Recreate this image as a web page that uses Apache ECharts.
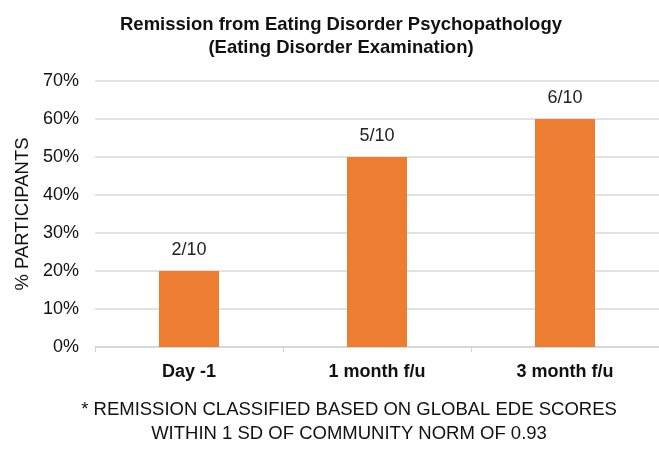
<!DOCTYPE html>
<html>
<head>
<meta charset="utf-8">
<script src="https://cdn.jsdelivr.net/npm/echarts@6/dist/echarts.min.js"></script>
<style>
  html, body { margin: 0; padding: 0; background: #fff; }
  #chart { width: 659px; height: 457px; }
</style>
</head>
<body>
<div id="chart"></div>
<script>
var categories = ["Day -1", "1 month f/u", "3 month f/u"];
var percentValues = [20, 50, 60];
var countLabels = ["2/10", "5/10", "6/10"];
var yTicks = [0, 10, 20, 30, 40, 50, 60, 70];

var chart = echarts.init(document.getElementById("chart"));
var font = "Liberation Sans, Arial, sans-serif";

var option = {
  backgroundColor: "#fff",
  animation: false,
  title: [
    {
      text: "Remission from Eating Disorder Psychopathology\n(Eating Disorder Examination)",
      left: 336,
      top: 8,
      textAlign: "center",
      textStyle: {
        fontFamily: font,
        fontSize: 18.5,
        fontWeight: "bold",
        color: "#111",
        lineHeight: 23
      }
    },
    {
      text: "* REMISSION CLASSIFIED BASED ON GLOBAL EDE SCORES\nWITHIN 1 SD OF COMMUNITY NORM OF 0.93",
      left: 344,
      top: 393,
      textAlign: "center",
      textStyle: {
        fontFamily: font,
        fontSize: 18.5,
        fontWeight: "normal",
        color: "#111",
        lineHeight: 24
      }
    }
  ],
  grid: {
    left: 95,
    top: 81,
    width: 570,
    height: 266
  },
  xAxis: {
    type: "category",
    data: categories,
    axisLine: { lineStyle: { color: "#d4d4d4", width: 1.5 } },
    axisTick: { show: true, length: 5, lineStyle: { color: "#d4d4d4" } },
    axisLabel: {
      fontFamily: font,
      fontSize: 18,
      fontWeight: "bold",
      color: "#111",
      margin: 16
    }
  },
  yAxis: {
    type: "value",
    min: yTicks[0],
    max: yTicks[yTicks.length - 1],
    interval: 10,
    name: "% PARTICIPANTS",
    nameLocation: "middle",
    nameGap: 62,
    nameRotate: 90,
    nameTextStyle: {
      fontFamily: font,
      fontSize: 18.5,
      color: "#111"
    },
    axisLine: { show: false },
    axisTick: { show: false },
    axisLabel: {
      fontFamily: font,
      fontSize: 18,
      color: "#111",
      margin: 16,
      formatter: "{value}%"
    },
    splitLine: { lineStyle: { color: "#d9d9d9", width: 1.5 } }
  },
  series: [
    {
      type: "bar",
      data: percentValues,
      barWidth: 60,
      itemStyle: { color: "#ED7D31" },
      label: {
        show: true,
        position: "top",
        distance: 12,
        fontFamily: font,
        fontSize: 18,
        color: "#222",
        formatter: function (p) {
          return countLabels[p.dataIndex];
        }
      }
    }
  ]
};

chart.setOption(option);
</script>
</body>
</html>
